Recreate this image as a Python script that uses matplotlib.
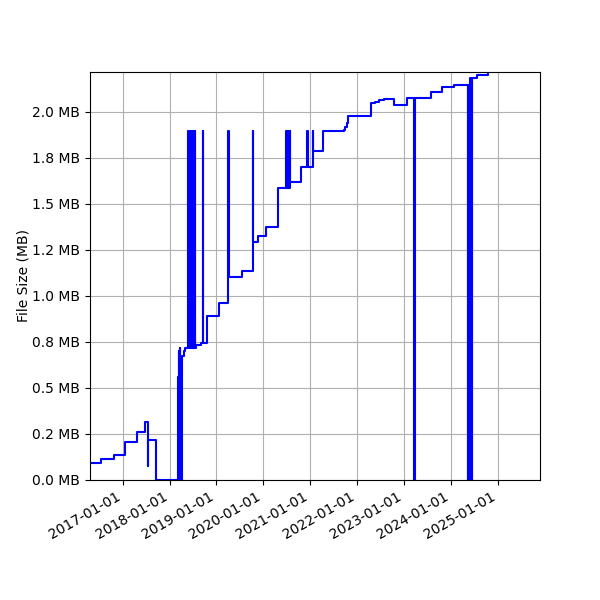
import matplotlib
matplotlib.use("Agg")
import matplotlib.pyplot as plt
import matplotlib.dates as mdates
from matplotlib.ticker import FuncFormatter
import pandas as pd

dates = [
    "2016-04-06", "2016-07-18", "2016-10-25", "2017-01-21", "2017-04-25",
    "2017-06-22", "2017-07-17", "2017-07-19", "2017-09-20",
    "2018-03-11", "2018-03-12", "2018-03-16", "2018-03-17", "2018-03-21",
    "2018-03-22", "2018-03-26", "2018-03-27",
    "2018-04-06", "2018-04-20", "2018-05-02",
    "2018-05-23", "2018-05-24", "2018-05-28", "2018-05-29", "2018-06-02",
    "2018-06-03", "2018-06-07", "2018-06-08", "2018-06-12", "2018-06-13",
    "2018-06-17", "2018-06-18", "2018-06-22", "2018-06-23", "2018-06-27",
    "2018-06-28", "2018-07-02", "2018-07-03", "2018-07-07", "2018-07-08",
    "2018-07-12", "2018-07-13", "2018-07-17", "2018-07-18",
    "2018-07-27", "2018-09-04", "2018-09-19", "2018-09-20", "2018-10-18",
    "2019-01-24", "2019-04-05", "2019-04-06", "2019-07-18",
    "2019-10-10", "2019-10-11", "2019-11-18",
    "2020-01-24", "2020-04-26",
    "2020-06-25", "2020-06-26", "2020-06-30", "2020-07-01", "2020-07-05",
    "2020-07-06", "2020-07-10", "2020-07-11", "2020-07-15", "2020-07-16",
    "2020-07-20", "2020-07-21", "2020-07-25", "2020-07-26", "2020-07-29",
    "2020-10-20", "2020-12-11", "2020-12-12", "2021-01-22", "2021-01-23",
    "2021-01-27", "2021-04-08", "2021-04-10", "2021-04-14", "2021-04-16",
    "2021-09-23", "2021-10-03", "2021-10-12", "2021-10-20", "2021-10-27",
    "2022-04-22", "2022-05-20", "2022-06-20", "2022-08-03",
    "2022-10-18", "2023-01-25", "2023-03-25", "2023-03-26",
    "2023-08-03", "2023-10-25", "2024-01-29",
    "2024-05-17", "2024-05-18", "2024-05-22", "2024-05-23", "2024-05-27",
    "2024-05-28", "2024-06-01", "2024-06-02", "2024-06-06", "2024-06-07",
    "2024-06-10", "2024-06-11", "2024-06-15", "2024-06-16",
    "2024-07-24", "2024-10-18", "2025-03-01",
]
sizes_mb = [
    0.091, 0.114, 0.138, 0.208, 0.261,
    0.313, 0.076, 0.217, 0.0,
    0.558, 0.0, 0.70, 0.0, 0.71,
    0.0, 0.715, 0.0,
    0.674, 0.70, 0.716,
    1.897, 0.716, 1.897, 0.716, 1.897,
    0.716, 1.897, 0.716, 1.897, 0.716,
    1.897, 0.716, 1.897, 0.716, 1.897,
    0.716, 1.897, 0.716, 1.897, 0.716,
    1.897, 0.716, 1.897, 0.716,
    0.734, 0.746, 1.897, 0.746, 0.891,
    0.96, 1.897, 1.105, 1.138,
    1.897, 1.292, 1.328,
    1.377, 1.585,
    1.897, 1.585, 1.897, 1.585, 1.897,
    1.585, 1.897, 1.585, 1.897, 1.585,
    1.897, 1.585, 1.897, 1.585, 1.62,
    1.70, 1.897, 1.70, 1.897, 1.70,
    1.79, 1.897, 1.79, 1.897, 1.897,
    1.90, 1.92, 1.94, 1.96, 1.978,
    2.05, 2.056, 2.063, 2.07,
    2.04, 2.078, 0.0, 2.078,
    2.11, 2.134, 2.147,
    0.0, 2.147, 0.0, 2.147, 0.0,
    2.183, 0.0, 2.183, 0.0, 2.183,
    0.0, 2.183, 0.0, 2.183,
    2.20, 2.25, 2.30,
]
ytick_values = [0.0, 0.25, 0.5, 0.75, 1.0, 1.25, 1.5, 1.75, 2.0]
x_limits = ["2016-04-21", "2025-11-28"]
y_limits = [0.0, 2.217]

x = pd.to_datetime(dates)

fig = plt.figure(figsize=(6, 6), dpi=100)
ax = fig.add_subplot(111)
ax.plot(x, sizes_mb, color="#0000ff", linewidth=1.5, drawstyle="steps-post")

ax.set_xlim(pd.to_datetime(x_limits[0]), pd.to_datetime(x_limits[1]))
ax.set_ylim(*y_limits)
ax.set_yticks(ytick_values)
ax.yaxis.set_major_formatter(FuncFormatter(lambda v, p: f"{v:.1f} MB"))
ax.xaxis.set_major_locator(mdates.YearLocator())
ax.xaxis.set_major_formatter(mdates.DateFormatter("%Y-%m-%d"))
ax.set_ylabel("File Size (MB)", labelpad=1)
ax.grid(True)
fig.autofmt_xdate()
fig.subplots_adjust(left=0.15, right=0.9, top=0.88, bottom=0.2)

fig.savefig("out.png", dpi=100)
